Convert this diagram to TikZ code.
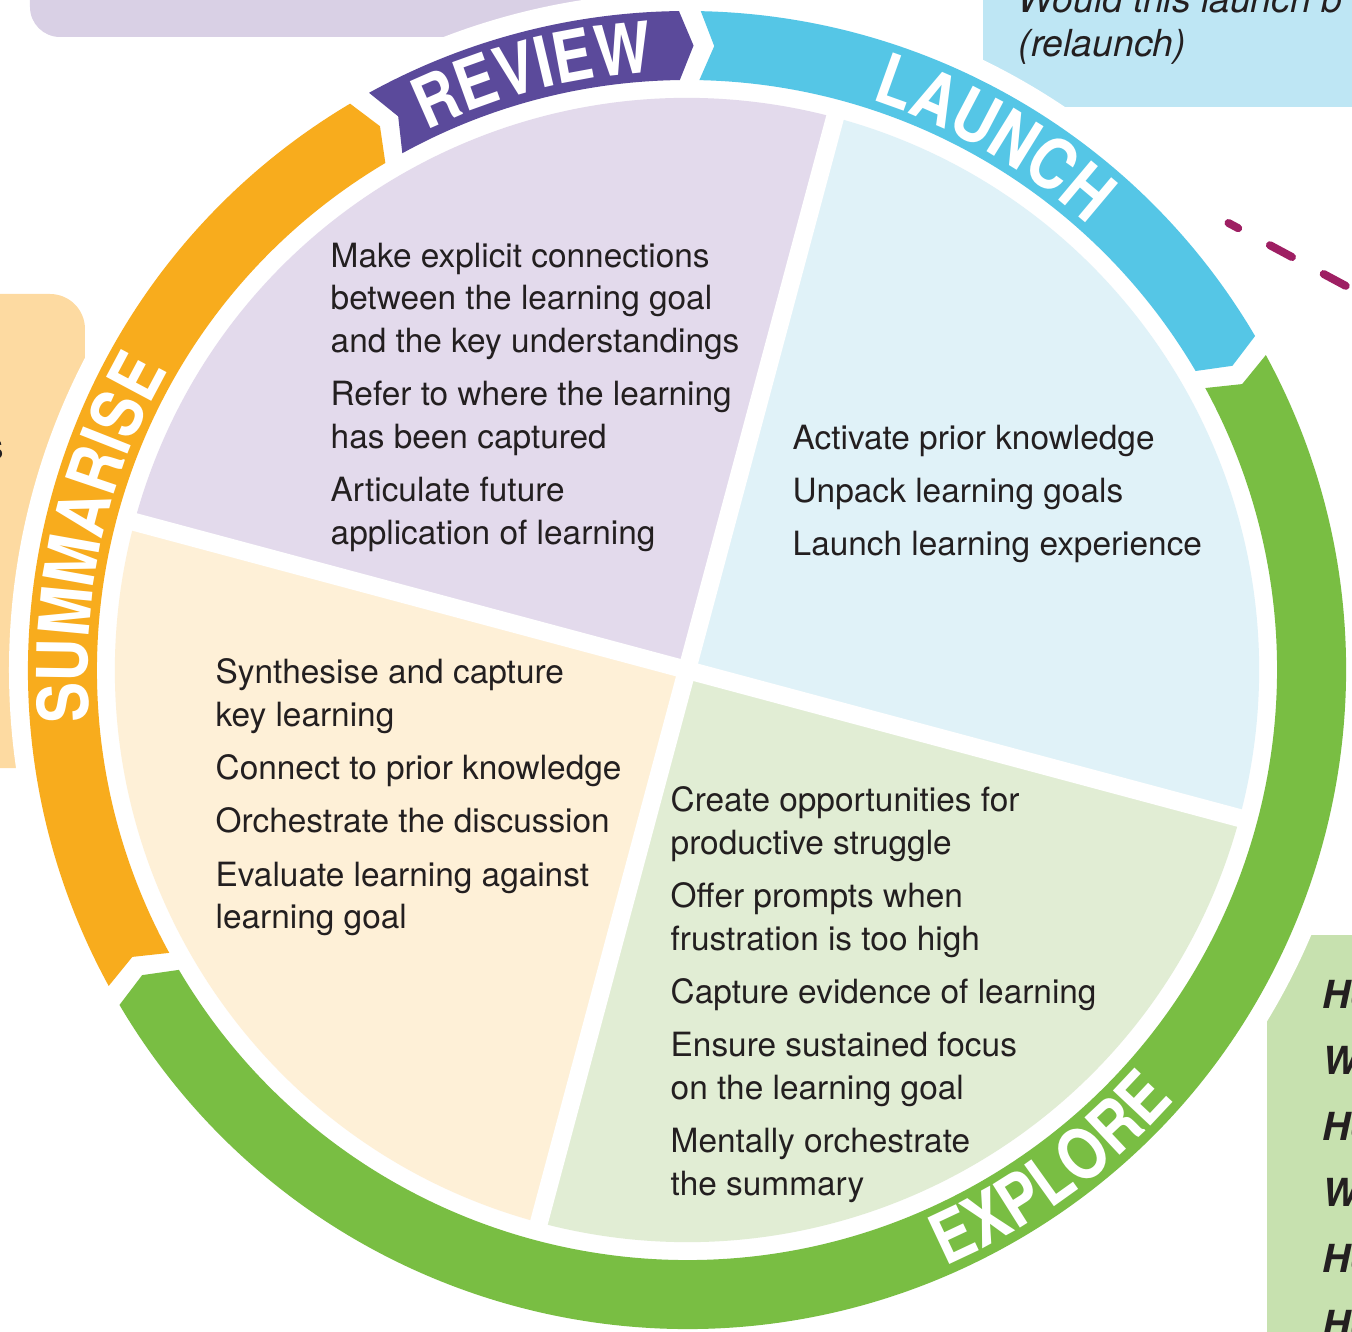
\documentclass[tikz,border=0pt]{standalone}
\usepackage{fontspec}
\setmainfont{TeX Gyre Heros}
\newfontfamily\ringfont[FakeStretch=0.85]{TeX Gyre Heros}
\usepackage{tikz}
\usetikzlibrary{decorations.text}
\definecolor{reviewdark}{HTML}{5B4A9B}
\definecolor{launchdark}{HTML}{55C6E6}
\definecolor{exploredark}{HTML}{79BE43}
\definecolor{summdark}{HTML}{F8AC1D}
\definecolor{reviewlight}{HTML}{E3DAEC}
\definecolor{launchlight}{HTML}{E0F2F8}
\definecolor{explorelight}{HTML}{E1EDD4}
\definecolor{summlight}{HTML}{FEF0D7}
\definecolor{reviewbox}{HTML}{D9D0E5}
\definecolor{launchbox}{HTML}{BEE6F4}
\definecolor{explorebox}{HTML}{C7E1AF}
\definecolor{summbox}{HTML}{FDDAA1}
\definecolor{linkpink}{HTML}{9E1F63}
\definecolor{bodytext}{HTML}{231F20}

\begin{document}
\begin{tikzpicture}[steps/.style={anchor=north west, inner sep=0pt, align=left, text=bodytext, font=\fontsize{9.5}{12.15}\selectfont}, boxnote/.style={inner sep=0pt, anchor=base west, text=bodytext, font=\fontsize{10.6}{12}\selectfont\itshape}, ringlabel/.style={decorate, decoration={text along path, text align=center, text color=white, text={|\ringfont\bfseries\fontsize{20}{20}\selectfont|#1}}}]
  \useasboundingbox (-6.87,-6.61) rectangle (6.65,6.70);
  \clip (-6.87,-6.61) rectangle (6.65,6.70);
  \fill[reviewbox, rounded corners=0.3cm] (-6.57,6.33) rectangle (0.13,7.3);
  \fill[launchbox] (2.96,5.63) rectangle (7.2,7.3);
  \fill[summbox, rounded corners=0.35cm] (-7.3,-0.98) rectangle (-6.02,3.76);
  \fill[explorebox] (5.80,-7.3) rectangle (7.2,-2.65);
  \fill[white] (0,0) circle (6.78);
  \foreach \s/\e/\c in {118.85/90.7/reviewdark, 88.8/30.45/launchdark, 28.55/-149.45/exploredark, 208.65/120.75/summdark}
    \fill[\c] (\s:6.59) arc[start angle=\s, end angle=\e, radius=6.59] -- ({\e-1.3}:6.245) -- (\e:5.90) arc[start angle=\e, end angle=\s, radius=5.90] -- ({\s-1.3}:6.245) -- cycle;
  \foreach \a/\c in {75/reviewlight, -15/launchlight, -105/explorelight, 165/summlight}
    \fill[\c] (0,0) -- (\a:5.72) arc[start angle=\a, end angle=\a+90, radius=5.72] -- cycle;
  \draw[white, line width=0.18cm] (75:5.8) -- (255:5.8) (165:5.8) -- (345:5.8);
  \path[ringlabel=REVIEW] (118:5.99) arc[start angle=118, end angle=91, radius=5.99];
  \path[ringlabel=LAUNCH] (87:5.99) arc[start angle=87, end angle=33, radius=5.99];
  \path[ringlabel=SUMMARISE] (207:5.99) arc[start angle=207, end angle=128, radius=5.99];
  \path[ringlabel=EXPLORE] (-86:6.50) arc[start angle=-86, end angle=-22, radius=6.50];
  \node[steps] (reviewtext) at (-3.57,4.28) {Make explicit connections\\between the learning goal\\and the key understandings\\[3pt]Refer to where the learning\\has been captured\\[3pt]Articulate future\\application of learning};
  \node[steps] (launchtext) at (1.05,2.46) {Activate prior knowledge\\[3pt]Unpack learning goals\\[3pt]Launch learning experience};
  \node[steps] (summtext) at (-4.72,0.12) {Synthesise and capture\\key learning\\[3pt]Connect to prior knowledge\\[3pt]Orchestrate the discussion\\[3pt]Evaluate learning against\\learning goal};
  \node[steps] (exploretext) at (-0.17,-1.16) {Create opportunities for\\productive struggle\\[3pt]Offer prompts when\\frustration is too high\\[3pt]Capture evidence of learning\\[3pt]Ensure sustained focus\\on the learning goal\\[3pt]Mentally orchestrate\\the summary};
  \node[boxnote] (launchq) at (3.31,6.57) {Would this launch b};
  \node[boxnote] (relaunch) at (3.31,6.13) {(relaunch)};
  \node[boxnote, anchor=base east, font=\fontsize{10.6}{12}\selectfont] (summq) at (-6.82,2.10) {s};
  \foreach \t [count=\i] in {Ho,W,Ho,W,Ho,Ho}
    \node[boxnote, font=\fontsize{11}{12}\selectfont\bfseries\itshape] (exploreq\i) at (6.35,{-3.38-0.66*(\i-1)}) {\t};
  \coordinate (dashstart) at (5.415,4.47);
  \coordinate (dashend) at (7.0,3.62);
  \draw[linkpink, line width=0.08cm, line cap=round, dash pattern=on 0.25cm off 0.36cm, dash phase=0.14cm] (dashstart) -- (dashend);
\end{tikzpicture}
\end{document}
